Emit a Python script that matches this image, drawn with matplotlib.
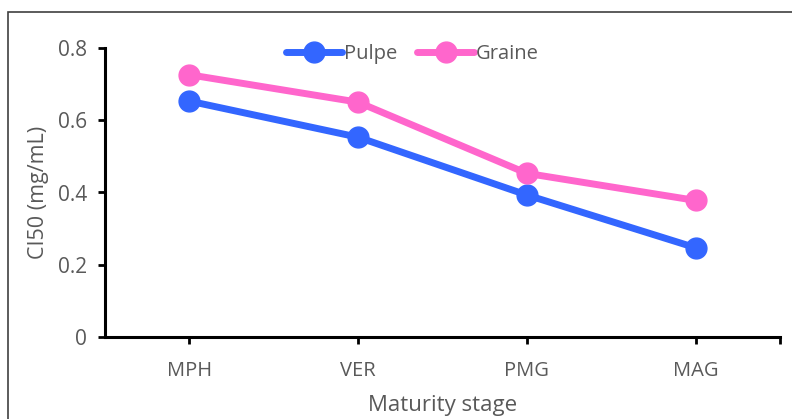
import matplotlib.pyplot as plt
from matplotlib.patches import Rectangle

stages = ['MPH', 'VER', 'PMG', 'MAG']
pulpe = [0.653, 0.553, 0.393, 0.247]
graine = [0.726, 0.650, 0.453, 0.378]

plt.rcParams['font.family'] = ['Open Sans', 'DejaVu Sans']
grey = '#595959'

fig = plt.figure(figsize=(7.92, 4.19), dpi=100)
ax = fig.add_axes([105/792, 1 - 337/419, (780 - 105)/792, (337 - 48)/419])

x = list(range(len(stages)))
ax.plot(x, pulpe, color='#3366FF', lw=5, marker='o', ms=15, label='Pulpe',
        solid_capstyle='round')
ax.plot(x, graine, color='#FF66CC', lw=5, marker='o', ms=15, label='Graine',
        solid_capstyle='round')

ax.set_xlim(-0.5, 3.5)
ax.set_ylim(0, 0.8)
ax.set_yticks([0, 0.2, 0.4, 0.6, 0.8])
ax.set_yticklabels(['0', '0.2', '0.4', '0.6', '0.8'])
ax.set_xticks([0, 1, 2, 3, 3.5])
ax.set_xticklabels(stages + [''])

for s in ['top', 'right']:
    ax.spines[s].set_visible(False)
for s in ['left', 'bottom']:
    ax.spines[s].set_linewidth(2.2)
    ax.spines[s].set_color('black')
ax.tick_params(axis='both', direction='out', length=5, width=2, color='black',
               labelcolor=grey)
ax.tick_params(axis='x', pad=12, labelsize=14.5)
ax.tick_params(axis='y', pad=8, labelsize=15)

ax.set_ylabel('CI50 (mg/mL)', color=grey, fontsize=15.5, labelpad=6)
ax.set_xlabel('Maturity stage', color=grey, fontsize=16, labelpad=10)

leg = ax.legend(loc='upper center', bbox_to_anchor=(0.455, 1.075), ncol=2,
                frameon=False, fontsize=14.5, handlelength=2.8, handletextpad=0.1,
                columnspacing=1.0)
for t in leg.get_texts():
    t.set_color(grey)

fig.patches.append(Rectangle((8/792, -0.1), 1.2, 1.1 - 12/419, transform=fig.transFigure,
                             fill=False, edgecolor='#404040', lw=1.2))

fig.savefig('out.png', dpi=100)
